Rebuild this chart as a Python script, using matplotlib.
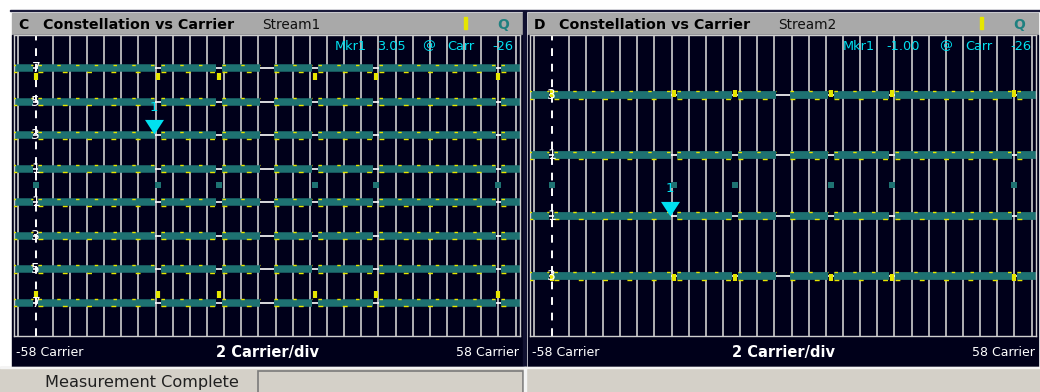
"""Constellation vs Carrier screen, two streams side by side."""

import matplotlib
matplotlib.use("Agg")
import matplotlib.pyplot as plt
import numpy as np
from matplotlib.patches import Rectangle
from matplotlib.path import Path
from matplotlib.transforms import offset_copy

W, H = 1040, 392

# data
CARRIER_MIN, CARRIER_MAX = -58, 58
PILOTS = [-53, -25, -11, 11, 25, 53]
DC = [-1, 0, 1]

LEVELS_C = [7, 5, 3, 1, -1, -3, -5, -7]
LEVELS_D = [3, 1, -1, -3]
LEVEL_LABELS_C = ["7", "5", "3", "1", "1", "3", "5", "7"]
LEVEL_LABELS_D = ["3", "1", "1", "3"]

PILOT_Q = 0.0
PILOT_YELLOW_C = [6.5, -6.5]
PILOT_YELLOW_D = [3.05, -3.05]

MKR_CARRIER = -26
MKR_VALUE_C = 3.05
MKR_VALUE_D = -1.00

BG_PLOT = "#00001a"
TEAL = "#1e7272"
YELLOW = "#e6e600"
CYAN = "#00e0f0"
GRID = "#cfcfcf"
HEADER = "#a9a9a9"
STATUS = "#d4d0c8"


def px(x0, y0, x1, y1):
    return [x0 / W, 1 - y1 / H, (x1 - x0) / W, (y1 - y0) / H]


def data_runs():
    skip = set(PILOTS) | set(DC)
    cars = [c for c in range(CARRIER_MIN, CARRIER_MAX + 1) if c not in skip]
    runs, start, prev = [], cars[0], cars[0]
    for c in cars[1:]:
        if c != prev + 1:
            runs.append((start, prev))
            start = c
        prev = c
    runs.append((start, prev))
    return runs


TRI = Path([(-0.65, 1.0), (0.65, 1.0), (0.0, 0.0), (-0.65, 1.0)],
           [Path.MOVETO, Path.LINETO, Path.LINETO, Path.CLOSEPOLY])


def draw_panel(fig, ax, levels, labels, ylim, yellow_pilot, yellow_h,
               band_lw, edge_pt, mkr_value):
    ax.set_facecolor(BG_PLOT)
    ax.set_xlim(CARRIER_MIN, CARRIER_MAX)
    ax.set_ylim(-ylim, ylim)
    ax.set_xticks([])
    ax.set_yticks([])
    for s in ax.spines.values():
        s.set_color(GRID)
        s.set_linewidth(1.0)

    grid_x = [g for g in np.linspace(-57, 57, 30) if abs(g + 53) > 0.5]
    ax.vlines(grid_x, -ylim, ylim, color=GRID, lw=1.2, zorder=1)
    ax.vlines(-53, -ylim, ylim, color="white", lw=1.4,
              linestyles=(0, (4, 4)), zorder=1)
    ax.hlines(levels, CARRIER_MIN, CARRIER_MAX, color="white", lw=1.2,
              zorder=1)

    up = offset_copy(ax.transData, fig=fig, y=edge_pt, units="points")
    dn = offset_copy(ax.transData, fig=fig, y=-edge_pt, units="points")
    for lvl in levels:
        for a, b in data_runs():
            xs = [a - 0.4, b + 0.4]
            ax.plot(xs, [lvl, lvl], color=TEAL, lw=band_lw,
                    solid_capstyle="butt", zorder=2)
            ax.plot(xs, [lvl, lvl], color=YELLOW, lw=1.0,
                    dashes=(2.5, 11), dash_capstyle="butt", transform=up,
                    zorder=3)
            ax.plot(xs, [lvl, lvl], color=YELLOW, lw=1.0,
                    dashes=(3.5, 14), dash_capstyle="butt", transform=dn,
                    zorder=3)

    ax.plot(PILOTS, [PILOT_Q] * len(PILOTS), "s", color=TEAL, ms=4, mew=0,
            zorder=2)
    for yv in yellow_pilot:
        ax.vlines(PILOTS, yv - yellow_h, yv + yellow_h, color=YELLOW, lw=3,
                  zorder=3)

    for lvl, lab in zip(levels, labels):
        ax.text(-53, lvl, lab, color="white", fontsize=10, ha="center",
                va="center", zorder=4)

    ax.plot([MKR_CARRIER], [mkr_value], marker=TRI, ms=21, color=CYAN,
            mew=0, ls="none", zorder=5)
    lab_off = offset_copy(ax.transData, fig=fig, y=14.5, units="points")
    ax.text(MKR_CARRIER, mkr_value, "1", color=CYAN, fontsize=9.5,
            ha="center", va="bottom", transform=lab_off, zorder=6)


def ftext(x, y, s, **kw):
    fig.text(x / W, 1 - y / H, s, **kw)


fig = plt.figure(figsize=(W / 100, H / 100), dpi=100)
fig.patch.set_facecolor("white")

bg = fig.add_axes([0, 0, 1, 1])
bg.set_xlim(0, W)
bg.set_ylim(H, 0)
bg.axis("off")

bg.add_patch(Rectangle((10, 9.5), 1030, 1.8, color="#1a1a3a"))
for x0 in (12, 528):
    bg.add_patch(Rectangle((x0, 13), 510, 22, color=HEADER))
    bg.add_patch(Rectangle((x0, 35), 510, 332, color=BG_PLOT))
bg.add_patch(Rectangle((523, 11), 3, 356, color="#101030"))
bg.add_patch(Rectangle((0, 367), W, 25, color=STATUS))
bg.add_patch(Rectangle((0, 367), W, 1.2, color="#f4f4f4"))
bg.add_patch(Rectangle((258, 371), 265, 24, facecolor=STATUS,
                       edgecolor="#7a7a7a", lw=1.2))
bg.add_patch(Rectangle((524, 367), 1.5, 25, color="#f4f4f4"))

bg.text(45, 382, "Measurement Complete", fontsize=11.6, color="#202020",
        va="center", ha="left")

panels = [
    (12, "C", "Stream1", ["Mkr1", "3.05", "@", "Carr", "-26"],
     [335, 377, 422, 447, 492]),
    (528, "D", "Stream2", ["Mkr1", "-1.00", "@", "Carr", "-26"],
     [843, 886, 939, 965, 1010]),
]
for x0, letter, stream, mkr_words, mkr_x in panels:
    bg.text(x0 + 6, 24.5, letter, fontsize=10, fontweight="bold",
            color="black", va="center")
    bg.text(x0 + 31, 24.5, "Constellation vs Carrier", fontsize=10.3,
            fontweight="bold", color="black", va="center")
    bg.text(x0 + 250, 24.5, stream, fontsize=9.8, color="#101010",
            va="center")
    bg.add_patch(Rectangle((x0 + 452, 17), 2.5, 12, color=YELLOW))
    bg.text(x0 + 491, 25, "Q", fontsize=10, fontweight="bold",
            color="#1f8080", va="center", ha="center")
    for word, wx in zip(mkr_words, mkr_x):
        ftext(wx, 46, word, fontsize=9.3, color=CYAN, va="center",
              ha="left")
    bg.text(x0 + 4, 352, "-58 Carrier", fontsize=9, color="white",
            va="center")
    bg.text(x0 + 255, 352, "2 Carrier/div", fontsize=10.5,
            fontweight="bold", color="white", va="center", ha="center")
    bg.text(x0 + 507, 352, "58 Carrier", fontsize=9, color="white",
            va="center", ha="right")

axC = fig.add_axes(px(14, 35, 520, 336))
draw_panel(fig, axC, LEVELS_C, LEVEL_LABELS_C, 9, PILOT_YELLOW_C, 0.2,
           5.4, 2.6, MKR_VALUE_C)

axD = fig.add_axes(px(530, 35, 1036, 336))
draw_panel(fig, axD, LEVELS_D, LEVEL_LABELS_D, 5, PILOT_YELLOW_D, 0.12,
           5.6, 2.7, MKR_VALUE_D)

fig.savefig("out.png", dpi=100)
plt.close(fig)
